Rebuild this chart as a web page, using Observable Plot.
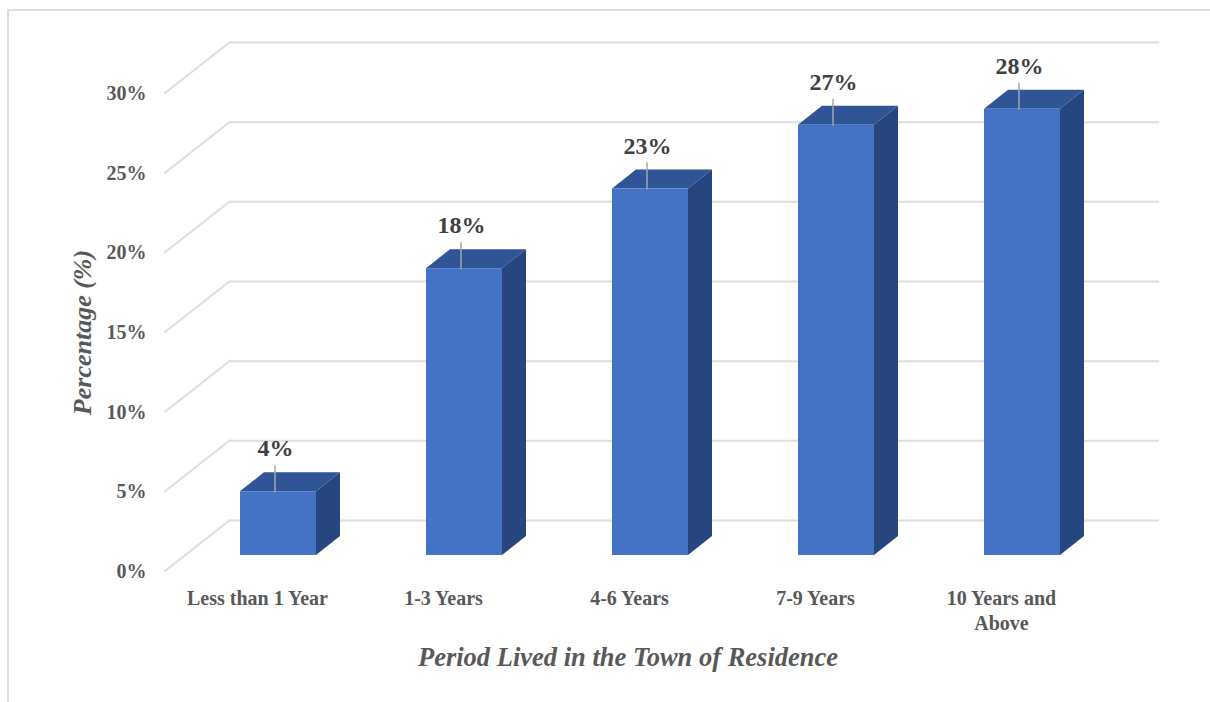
<!DOCTYPE html>
<html>
<head>
<meta charset="utf-8">
<script src="https://cdn.jsdelivr.net/npm/d3@7"></script>
<script src="https://cdn.jsdelivr.net/npm/@observablehq/plot@0.6"></script>
<style>
  html, body { margin: 0; padding: 0; background: #fff; }
  #frame {
    position: absolute; left: 7px; top: 9px; right: 0; bottom: 0;
    border-left: 2px solid #dedede; border-top: 2px solid #dedede;
  }
  #chart { position: absolute; left: 0; top: 0; }
</style>
</head>
<body>
<div id="frame"></div>
<div id="chart"></div>
<script>
// Share of respondents by how long they have lived in their town
const categories = ["Less than 1 Year", "1-3 Years", "4-6 Years", "7-9 Years", "10 Years and Above"];
const percentages = [4, 18, 23, 27, 28];
const xTickLabels = ["Less than 1 Year", "1-3 Years", "4-6 Years", "7-9 Years", "10 Years and\nAbove"];
const yTicks = [0, 5, 10, 15, 20, 25, 30];
const xTitle = "Period Lived in the Town of Residence";
const yTitle = "Percentage (%)";

const data = categories.map((category, i) => ({category, value: percentages[i]}));

// Oblique projection: offsets of the front wall, back wall and bar depth
// relative to the plane of the bars' front faces.
const FRONT = [-21, 16];
const BACK = [44, -35];
const DEPTH = [24, -19];

const FACE = "#4472c4", TOP = "#2f5597", SIDE = "#27467f";
const GRID = "#dedede";

// Left side-wall gridlines running from the front edge back to the rear wall
function sideWall(index, {y}, values, {marginLeft}) {
  const g = d3.create("svg:g")
    .attr("fill", "none").attr("stroke", GRID).attr("stroke-width", 2)
    .attr("stroke-linecap", "round");
  g.selectAll("path").data(yTicks).join("path")
    .attr("d", t => `M${marginLeft + FRONT[0]},${y(t) + FRONT[1]}L${marginLeft + BACK[0]},${y(t) + BACK[1]}`);
  return g.node();
}

// Top and right-hand faces of each column
function columnSides(index, {x, y}) {
  const bw = x.bandwidth();
  const g = d3.create("svg:g");
  for (const d of data) {
    const x0 = x(d.category), x1 = x0 + bw, yb = y(0), yt = y(d.value);
    g.append("path").attr("fill", TOP)
      .attr("d", `M${x0},${yt}l${DEPTH[0]},${DEPTH[1]}H${x1 + DEPTH[0]}L${x1},${yt}Z`);
    g.append("path").attr("fill", SIDE)
      .attr("d", `M${x1},${yt}l${DEPTH[0]},${DEPTH[1]}V${yb + DEPTH[1]}L${x1},${yb}Z`);
  }
  return g.node();
}

// Leader lines from each value label down to its column
function leaders(index, {x, y}) {
  const bw = x.bandwidth();
  const g = d3.create("svg:g").attr("stroke", "#a6a6a6").attr("stroke-width", 1.5);
  for (const d of data) {
    const cx = x(d.category) + bw / 2 - 3;
    g.append("line")
      .attr("x1", cx).attr("x2", cx)
      .attr("y1", y(d.value) + 1).attr("y2", y(d.value) - 26);
  }
  return g.node();
}

const chart = Plot.plot({
  width: 1210,
  height: 702,
  marginLeft: 186,
  marginRight: 95,
  marginTop: 77,
  marginBottom: 147,
  style: {
    fontFamily: "'Liberation Serif', 'Times New Roman', serif",
    fontSize: "20px",
    fontWeight: "bold",
    color: "#595959",
    background: "none",
    overflow: "visible"
  },
  x: {domain: categories, paddingInner: 0.59, paddingOuter: 0.29, label: null},
  y: {domain: [0, 30], label: null},
  marks: [
    sideWall,
    Plot.ruleY(yTicks, {y: d => d, dx: BACK[0], dy: BACK[1], stroke: GRID, strokeWidth: 2}),
    columnSides,
    Plot.barY(data, {x: "category", y: "value", fill: FACE}),
    leaders,
    Plot.text(data, {
      x: "category", y: "value", text: d => `${d.value}%`,
      dx: -3, dy: -43, fontSize: 24, fontWeight: "bold", fill: "#404040"
    }),
    Plot.axisY({
      ticks: yTicks, tickFormat: d => `${d}%`, tickSize: 0, tickPadding: 19,
      dx: FRONT[0], dy: FRONT[1], fontWeight: "bold", label: null
    }),
    Plot.axisX({
      tickFormat: d => xTickLabels[categories.indexOf(d)], tickSize: 0, tickPadding: 16,
      dx: FRONT[0], dy: FRONT[1], lineHeight: 1.25, fontWeight: "bold", label: null
    }),
    Plot.text([yTitle], {
      text: d => d, frameAnchor: "left", textAnchor: "middle", lineAnchor: "middle",
      rotate: -90, dx: -104, dy: 16,
      fontSize: 26, fontStyle: "italic", fontWeight: "bold", fill: "#595959"
    }),
    Plot.text([xTitle], {
      text: d => d, frameAnchor: "bottom", textAnchor: "middle", lineAnchor: "middle",
      dx: -23, dy: 102,
      fontSize: 26.5, fontStyle: "italic", fontWeight: "bold", fill: "#595959"
    })
  ]
});

document.getElementById("chart").appendChild(chart);
</script>
</body>
</html>
